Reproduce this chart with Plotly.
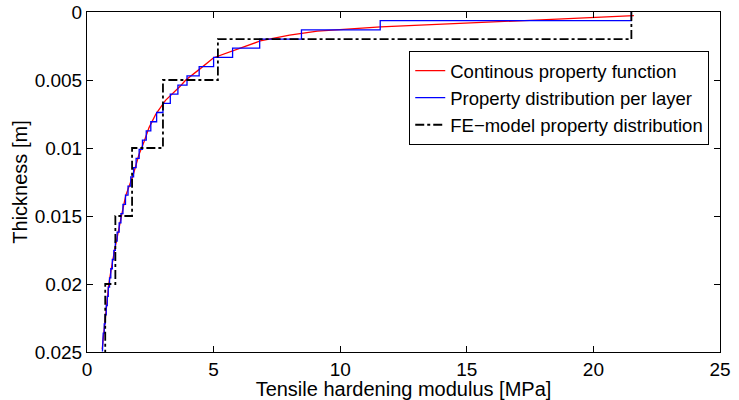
import plotly.graph_objects as go

# Continuous property function (depth [m], modulus [MPa])
cont_depth = [0.00027, 0.0005, 0.00075, 0.0011, 0.0014, 0.0017, 0.00213, 0.0027,
              0.00336, 0.0042, 0.005, 0.00544, 0.0065, 0.0075, 0.0085, 0.0095,
              0.0105, 0.012, 0.0135, 0.015, 0.016, 0.0175, 0.019, 0.02, 0.0215,
              0.023, 0.0248]
cont_mod = [21.6, 19.0, 16.0, 11.6, 9.1, 8.0, 6.84, 6.0,
            5.0, 4.45, 3.9, 3.69, 3.1, 2.72, 2.45, 2.26,
            2.05, 1.82, 1.53, 1.36, 1.25, 1.09, 0.95, 0.86, 0.78,
            0.7, 0.6]

# Property distribution per layer: layer boundaries and layer moduli
layer_bounds = [0.0, 0.00064, 0.00131, 0.00199, 0.00266, 0.00334, 0.00401, 0.00469,
                0.00537, 0.00604, 0.00672, 0.00739, 0.00807, 0.00874, 0.00942,
                0.0101, 0.01077, 0.01145, 0.01212, 0.0128, 0.01347, 0.01415,
                0.01482, 0.0155, 0.01618, 0.01685, 0.01753, 0.0182, 0.01888,
                0.01955, 0.02023, 0.02091, 0.02158, 0.02226, 0.02293, 0.02361,
                0.02428, 0.02496]
layer_mod = [21.5, 11.58, 8.47, 6.82, 5.75, 5.0, 4.43, 3.95, 3.59, 3.29, 3.0,
             2.75, 2.52, 2.34, 2.19, 2.06, 1.94, 1.84, 1.73, 1.62, 1.52, 1.42,
             1.34, 1.27, 1.19, 1.12, 1.06, 1.0, 0.94, 0.89, 0.84, 0.80, 0.76,
             0.72, 0.68, 0.64, 0.61]

# FE-model property distribution
fe_bounds = [0.0, 0.002, 0.005, 0.01, 0.015, 0.02, 0.025]
fe_mod = [21.5, 5.17, 3.0, 1.78, 1.12, 0.72]

x_ticks = [0, 5, 10, 15, 20, 25]
y_ticks = [0, 0.005, 0.01, 0.015, 0.02, 0.025]
y_ticklabels = ["0", "0.005", "0.01", "0.015", "0.02", "0.025"]


def staircase(bounds, vals):
    xs, ys = [], []
    for i, v in enumerate(vals):
        xs += [v, v]
        ys += [bounds[i], bounds[i + 1]]
    return xs, ys


bx, by = staircase(layer_bounds, layer_mod)
fx, fy = staircase(fe_bounds, fe_mod)

fig = go.Figure()
fig.add_trace(go.Scatter(x=cont_mod, y=cont_depth, mode="lines",
                         line=dict(color="#ff0000", width=1.3),
                         name="Continous property function"))
fig.add_trace(go.Scatter(x=bx, y=by, mode="lines",
                         line=dict(color="#0000ff", width=1.3),
                         name="Property distribution per layer"))
fig.add_trace(go.Scatter(x=fx, y=fy, mode="lines",
                         line=dict(color="#000000", width=1.8, dash="dashdot"),
                         name="FE\u2212model property distribution"))

fam = "Liberation Sans, Arial, sans-serif"
tickfont = dict(family=fam, size=19, color="black")
titlefont = dict(family=fam, size=20, color="black")

fig.update_layout(
    width=739, height=400,
    margin=dict(l=87, r=19, t=12, b=48),
    paper_bgcolor="white", plot_bgcolor="white",
    font=tickfont,
    showlegend=True,
    legend=dict(x=0.983, y=0.885, xanchor="right", yanchor="top",
                bordercolor="black", borderwidth=1, bgcolor="white",
                font=dict(family=fam, size=18.5, color="black"),
                itemwidth=30, tracegroupgap=0),
)
fig.update_xaxes(range=[0, 25], tickvals=x_ticks, ticks="inside", ticklen=6,
                 showline=True, linecolor="black", linewidth=1, mirror="ticks",
                 tickcolor="black", showgrid=False, zeroline=False, automargin=False,
                 title=dict(text="Tensile hardening modulus [MPa]", standoff=0,
                            font=titlefont),
                 tickfont=tickfont)
fig.update_yaxes(range=[0.025, 0], tickvals=y_ticks, ticktext=y_ticklabels,
                 ticks="inside", ticklen=6,
                 showline=True, linecolor="black", linewidth=1, mirror="ticks",
                 tickcolor="black", showgrid=False, zeroline=False, automargin=False,
                 title=dict(text="Thickness [m]", standoff=1, font=titlefont),
                 tickfont=tickfont)

fig.write_html("out.html")
